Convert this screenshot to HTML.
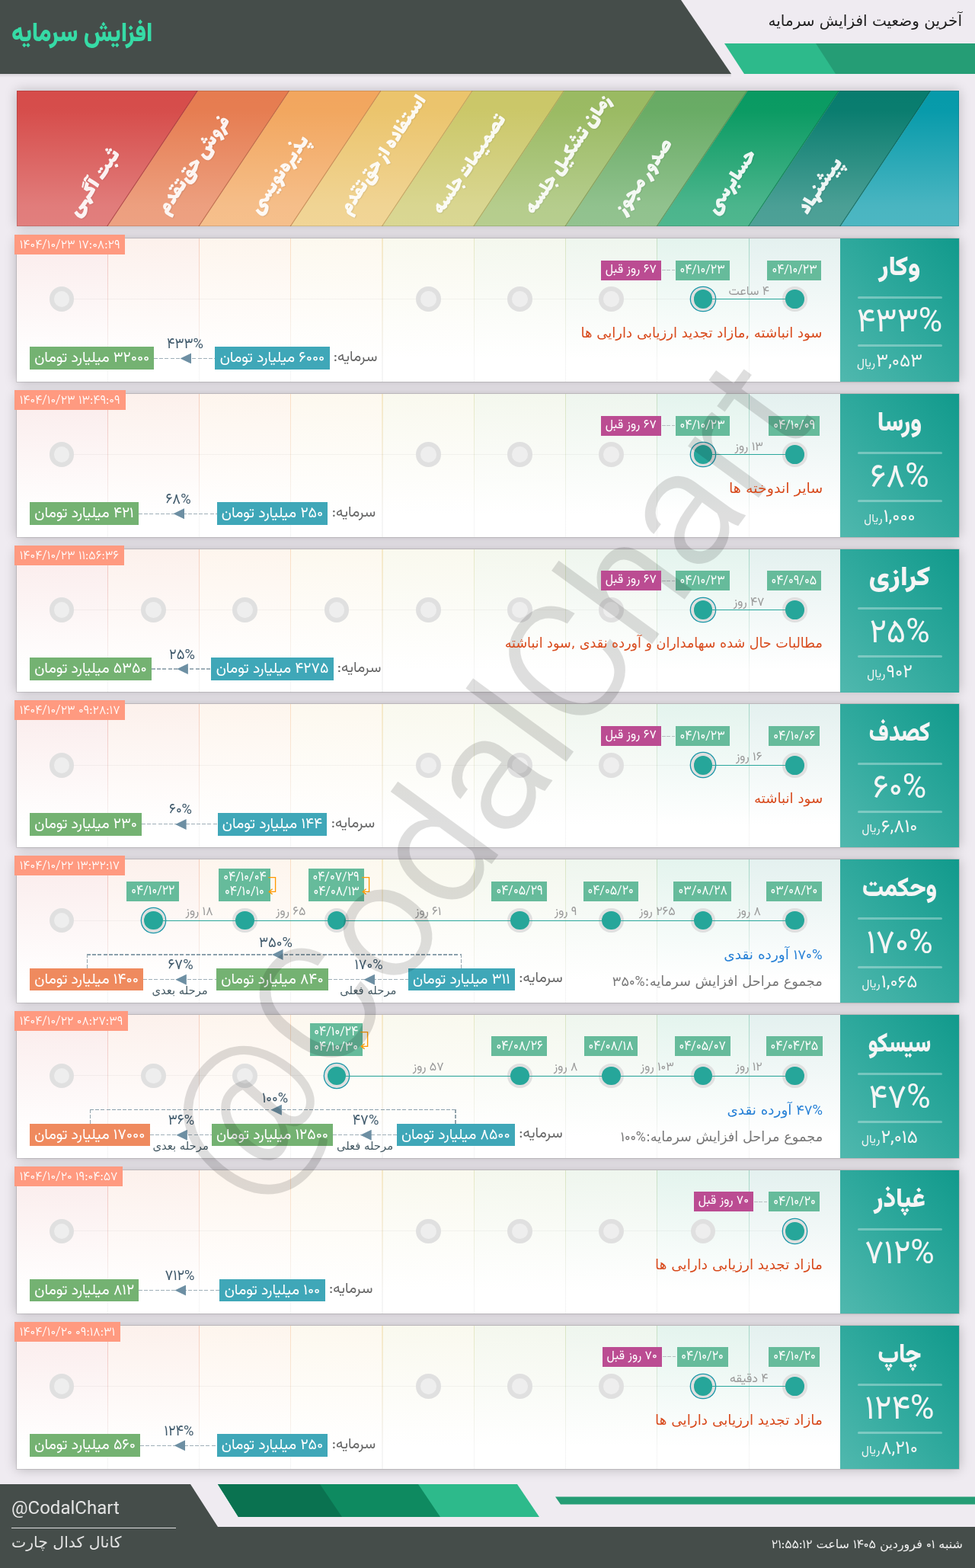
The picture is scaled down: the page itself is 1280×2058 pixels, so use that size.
<!DOCTYPE html>
<html lang="fa">
<head>
<meta charset="utf-8">
<title>افزایش سرمایه</title>
<style>
*{box-sizing:border-box;margin:0;padding:0}
html,body{width:1280px;height:2058px;background:#efebf1}
body{overflow:hidden}
body{font-family:"Vazirmatn", "DejaVu Sans", "Liberation Sans", sans-serif;font-size:16px;color:#333;position:relative;direction:ltr}
.d{font-family:"Vazirmatn", "DejaVu Sans", "Liberation Sans", sans-serif}
.abs{position:absolute}
.t{position:absolute;white-space:nowrap;direction:rtl;line-height:1}
#title{left:15px;top:21px;font:900 35.6px/50px "Vazirmatn", "DejaVu Sans", "Liberation Sans", sans-serif;color:#36dba6;transform:scaleX(.87);transform-origin:0 50%}
#sub{right:17px;top:13px;font:400 20px/28px "DejaVu Sans", "Liberation Sans", sans-serif;color:#1c1c1c}
#band{position:absolute;left:22px;top:119px;width:1237px;height:178px;overflow:hidden;box-shadow:0 0 15px rgba(0,0,0,.22)}
#band svg{position:absolute;left:0;top:0}
.sl{position:absolute;white-space:nowrap;direction:rtl;font:400 29px/40px "Lalezar", "DejaVu Sans", "Liberation Sans", sans-serif;color:#fff;opacity:.91;transform-origin:0 100%;transform:rotate(-56deg);text-shadow:0 1px 2px rgba(0,0,0,.12)}
.row{position:absolute;left:22px;width:1237px;height:187.8px;background:#fff;box-shadow:0 0 0 .7px rgba(0,0,0,.16),0 0 15px rgba(0,0,0,.25)}
.cols{position:absolute;left:0;top:0;width:1081px;height:188px;overflow:hidden}
.col{position:absolute;top:0;width:120px;height:188px}
.vl{position:absolute;top:0;width:1.2px;height:188px}
.hl{position:absolute;left:59px;top:79.3px;width:962px;height:1px;background:rgba(0,0,0,.04)}
.np{position:absolute;left:1081px;top:0;width:156px;height:188px;background:linear-gradient(to bottom left,#119a8c 0%,#2fa99d 50%,#50b8ae 100%);color:#f5f5f5}
.np .nm{left:0;width:156px;text-align:center;top:14.8px;font:900 35px/50px "Vazirmatn", "DejaVu Sans", "Liberation Sans", sans-serif;direction:rtl;position:absolute}
.np .pc{left:0;width:156px;text-align:center;top:79.3px;font:400 44px/66px "Vazirmatn", "DejaVu Sans", "Liberation Sans", sans-serif;direction:rtl;position:absolute;transform:scaleX(.975)}
.np .pr{left:0;width:130px;text-align:center;top:144px;font:400 24px/36px "Vazirmatn", "DejaVu Sans", "Liberation Sans", sans-serif;direction:rtl;position:absolute;white-space:nowrap}
.np .pr small{font-size:15.5px;margin-right:1.2px}
.np i{position:absolute;left:23px;width:111px;height:3px;border-radius:2px;background:rgba(255,255,255,.32)}
.ts{z-index:6;position:absolute;left:-3px;top:-5px;height:26px;padding-top:2px;background:#ff9a80;color:#fff;font:300 16.2px/24px "Vazirmatn", "DejaVu Sans", "Liberation Sans", sans-serif;text-align:center;direction:ltr;white-space:nowrap}
.nd{position:absolute;width:32.6px;height:32.6px;border-radius:50%;top:63.1px;border:6px solid #e0e0e0;background:#eeeeee}
.nd.a{border-width:0;background:#e0e0e0}
.nd.c{border-width:0;background:#e0e0e0;box-shadow:0 0 0 1.3px #1a97a8;width:31.6px;height:31.6px;margin:.5px 0 0 .5px}
.dot{position:absolute;width:24.6px;height:24.6px;border-radius:50%;background:#26a69a}
.ln{position:absolute;height:1.24px;background:#2aa79c}
.db{position:absolute;height:26px;background:#66bb9b;color:#fff;font:400 16px/26px "Vazirmatn", "DejaVu Sans", "Liberation Sans", sans-serif;text-align:center;direction:rtl;white-space:nowrap;padding-top:.5px}
.db2{height:43px;line-height:18.6px;padding-top:3px}
.db span{display:inline-block;font-size:17.3px;transform:scaleX(.925);margin:0 -4px}
.mg{z-index:6;position:absolute;height:26px;top:29px;background:#bb4c92;color:#fff;font:400 16px/26px "Vazirmatn", "DejaVu Sans", "Liberation Sans", sans-serif;text-align:center;direction:rtl;white-space:nowrap}
.dash{position:absolute;height:1.3px;margin-top:-.15px;background:repeating-linear-gradient(90deg,#9fafb8 0,#9fafb8 5px,transparent 5px,transparent 7.2px)}
.dl{height:1px;background:repeating-linear-gradient(90deg,#b9bfc2 0,#b9bfc2 4.6px,transparent 4.6px,transparent 6.4px)}
.bk{background:repeating-linear-gradient(90deg,#8ba0ac 0,#8ba0ac 5px,transparent 5px,transparent 7.2px)}
.vdash{position:absolute;width:1.3px;background:repeating-linear-gradient(180deg,#93a4ad 0,#93a4ad 5px,transparent 5px,transparent 7.2px)}
.iv{position:absolute;width:100px;text-align:center;top:57.6px;font:400 16px/22px "Vazirmatn", "DejaVu Sans", "Liberation Sans", sans-serif;color:#9a9a9a;direction:rtl;white-space:nowrap}
.ds{z-index:6;transform-origin:100% 50%;position:absolute;right:179px;font:400 18px/24px "DejaVu Sans", "Liberation Sans", sans-serif;direction:rtl;white-space:nowrap}
.cb{position:absolute;height:29.6px;top:142.5px;color:#fff;font:400 19.4px/30.6px "Vazirmatn", "DejaVu Sans", "Liberation Sans", sans-serif;text-align:center;direction:rtl;white-space:nowrap}
.cl{position:absolute;top:142.2px;margin-left:-.7px;font:400 19.2px/28px "Vazirmatn", "DejaVu Sans", "Liberation Sans", sans-serif;color:#666;direction:rtl;white-space:nowrap}
.pl{position:absolute;width:100px;text-align:center;font:400 19.2px/24px "Vazirmatn", "DejaVu Sans", "Liberation Sans", sans-serif;color:#3f596b;transform:scaleX(.955);direction:rtl;white-space:nowrap}
.sb{position:absolute;width:120px;text-align:center;font:400 14.8px/18px "DejaVu Sans", "Liberation Sans", sans-serif;color:#455a64;direction:rtl;white-space:nowrap}
.ar{position:absolute;width:14.5px;height:14px;background:#6d8fa3;clip-path:polygon(0 50%,100% 0,100% 100%)}
#wm{position:absolute;left:0;top:0;width:1280px;height:2058px;pointer-events:none;z-index:5}
#fl1{left:15px;top:1965px;font:400 24px/32px "Vazirmatn", "Liberation Sans", "DejaVu Sans", sans-serif;color:#e4e4e4;direction:ltr}
#fl2{left:15px;top:2010px;font:400 20px/28px "DejaVu Sans", "Liberation Sans", sans-serif;color:#e4e4e4;transform:scaleX(1.02);transform-origin:0 50%}
#fr{right:16px;top:2016px;font:400 16px/22px "DejaVu Sans", "Liberation Sans", sans-serif;color:#f0f0f0}
</style>
</head>
<body>
<svg class="abs" style="left:0;top:0" width="1280" height="2058" viewBox="0 0 1280 2058">
<defs><linearGradient id="hs" x1="0" y1="0" x2="0" y2="1"><stop offset="0" stop-color="#000" stop-opacity=".10"/><stop offset="1" stop-color="#000" stop-opacity="0"/></linearGradient></defs>
<rect x="0" y="97" width="960" height="5" fill="url(#hs)"/>
<polygon points="0,0 894,0 960,97 0,97" fill="#454d4a"/>
<polygon points="951,57 1280,57 1280,97 977,97" fill="#2dba8b"/>
<polygon points="1071,57 1280,57 1280,97 1097,97" fill="#259d75"/>
<polygon points="0,1948 250,1948 286,2004 1280,2004 1280,2058 0,2058" fill="#454d4a"/>
<polygon points="286,1948 679,1948 708,1991 313,1991" fill="#2dba8b"/>
<polygon points="286,1948 549,1948 578,1991 313,1991" fill="#0e8a60"/>
<polygon points="286,1948 420,1948 449,1991 313,1991" fill="#0a7250"/>
<polygon points="729,1964.5 1280,1964.5 1280,1974.5 736,1974.5" fill="#259d75"/>
<rect x="15" y="2005" width="216" height="1" fill="#e0e0e0"/>
</svg>
<div class="t" id="title">افزایش سرمایه</div>
<div class="t" id="sub">آخرین وضعیت افزایش سرمایه</div>
<div id="band">
<svg width="1237" height="178" viewBox="0 0 1237 178">
<defs><linearGradient id="bw" x1="0" y1="0" x2="0" y2="1"><stop offset="0" stop-color="#fff" stop-opacity="0"/><stop offset=".15" stop-color="#fff" stop-opacity=".01"/><stop offset=".85" stop-color="#fff" stop-opacity=".27"/><stop offset="1" stop-color="#fff" stop-opacity=".285"/></linearGradient></defs>
<polygon points="0,0 238.02,0 119.27,178 0,178" fill="#d64c4a"/>
<polygon points="238.02,0 358.29,0 239.54,178 119.27,178" fill="#e67c50"/>
<polygon points="358.29,0 478.56,0 359.81,178 239.54,178" fill="#f2a65e"/>
<polygon points="478.56,0 598.83,0 480.08,178 359.81,178" fill="#ebc46c"/>
<polygon points="598.83,0 719.1,0 600.35,178 480.08,178" fill="#cbc768"/>
<polygon points="719.1,0 839.37,0 720.62,178 600.35,178" fill="#9aba62"/>
<polygon points="839.37,0 959.64,0 840.89,178 720.62,178" fill="#68ab64"/>
<polygon points="959.64,0 1079.91,0 961.16,178 840.89,178" fill="#099a62"/>
<polygon points="1079.91,0 1200.18,0 1081.43,178 961.16,178" fill="#087c6e"/>
<polygon points="1200.18,0 1237,0 1237,178 1081.43,178" fill="#069aaa"/>
<rect x="0" y="0" width="1237" height="178" fill="url(#bw)"/>
<line x1="237.42" y1="0" x2="118.67" y2="178" stroke="rgb(166,59,57)" stroke-opacity=".75" stroke-width="1.2"/>
<line x1="357.69" y1="0" x2="238.94" y2="178" stroke="rgb(179,96,62)" stroke-opacity=".75" stroke-width="1.2"/>
<line x1="477.96" y1="0" x2="359.21" y2="178" stroke="rgb(188,129,73)" stroke-opacity=".75" stroke-width="1.2"/>
<line x1="598.23" y1="0" x2="479.48" y2="178" stroke="rgb(183,152,84)" stroke-opacity=".75" stroke-width="1.2"/>
<line x1="718.5" y1="0" x2="599.75" y2="178" stroke="rgb(158,155,81)" stroke-opacity=".75" stroke-width="1.2"/>
<line x1="838.77" y1="0" x2="720.02" y2="178" stroke="rgb(120,145,76)" stroke-opacity=".75" stroke-width="1.2"/>
<line x1="959.04" y1="0" x2="840.29" y2="178" stroke="rgb(81,133,78)" stroke-opacity=".75" stroke-width="1.2"/>
<line x1="1079.31" y1="0" x2="960.56" y2="178" stroke="rgb(7,120,76)" stroke-opacity=".75" stroke-width="1.2"/>
<line x1="1199.58" y1="0" x2="1080.83" y2="178" stroke="rgb(6,96,85)" stroke-opacity=".75" stroke-width="1.2"/>
<rect x=".5" y=".5" width="1236" height="177" fill="none" stroke="#000" stroke-opacity=".12"/>
</svg>
<div class="sl" style="left:92px;top:135px;transform:rotate(-56deg) scaleX(1.05)">ثبت آگهی</div>
<div class="sl" style="left:209.27px;top:132px">فروش حق‌تقدم</div>
<div class="sl" style="left:329.54px;top:132px">پذیره‌نویسی</div>
<div class="sl" style="left:447.81px;top:132px;transform:rotate(-56deg) scaleX(0.96)">استفاده از حق‌تقدم</div>
<div class="sl" style="left:570.08px;top:132px;transform:rotate(-56deg) scaleX(0.94)">تصمیمات جلسه</div>
<div class="sl" style="left:691.35px;top:132px;transform:rotate(-56deg) scaleX(0.98)">زمان تشکیل جلسه</div>
<div class="sl" style="left:809.62px;top:132px;transform:rotate(-56deg) scaleX(1.04)">صدور مجوز</div>
<div class="sl" style="left:929.89px;top:132px">حسابرسی</div>
<div class="sl" style="left:1050.16px;top:132px;transform:rotate(-56deg) scaleX(1.02)">پیشنهاد</div>
</div>
<div class="row" style="top:312.9px">
<div class="cols">
<div class="col" style="left:-1px;width:120.27px;background:linear-gradient(180deg,rgba(214,76,74,.11),rgba(214,76,74,0) 85%)"></div>
<div class="vl" style="left:118.67px;background:linear-gradient(180deg,rgba(214,76,74,.3),rgba(120,120,120,.07) 88%)"></div>
<div class="col" style="left:119.27px;width:120.27px;background:linear-gradient(180deg,rgba(230,124,80,.11),rgba(230,124,80,0) 85%)"></div>
<div class="vl" style="left:238.94px;background:linear-gradient(180deg,rgba(230,124,80,.3),rgba(120,120,120,.07) 88%)"></div>
<div class="col" style="left:239.54px;width:120.27px;background:linear-gradient(180deg,rgba(242,166,94,.11),rgba(242,166,94,0) 85%)"></div>
<div class="vl" style="left:359.21px;background:linear-gradient(180deg,rgba(242,166,94,.3),rgba(120,120,120,.07) 88%)"></div>
<div class="col" style="left:359.81px;width:120.27px;background:linear-gradient(180deg,rgba(235,196,108,.11),rgba(235,196,108,0) 85%)"></div>
<div class="vl" style="left:479.48px;background:linear-gradient(180deg,rgba(235,196,108,.3),rgba(120,120,120,.07) 88%)"></div>
<div class="col" style="left:480.08px;width:120.27px;background:linear-gradient(180deg,rgba(203,199,104,.11),rgba(203,199,104,0) 85%)"></div>
<div class="vl" style="left:599.75px;background:linear-gradient(180deg,rgba(203,199,104,.3),rgba(120,120,120,.07) 88%)"></div>
<div class="col" style="left:600.35px;width:120.27px;background:linear-gradient(180deg,rgba(154,186,98,.11),rgba(154,186,98,0) 85%)"></div>
<div class="vl" style="left:720.02px;background:linear-gradient(180deg,rgba(154,186,98,.3),rgba(120,120,120,.07) 88%)"></div>
<div class="col" style="left:720.62px;width:120.27px;background:linear-gradient(180deg,rgba(104,171,100,.11),rgba(104,171,100,0) 85%)"></div>
<div class="vl" style="left:840.29px;background:linear-gradient(180deg,rgba(104,171,100,.3),rgba(120,120,120,.07) 88%)"></div>
<div class="col" style="left:840.89px;width:120.27px;background:linear-gradient(180deg,rgba(9,154,98,.11),rgba(9,154,98,0) 85%)"></div>
<div class="vl" style="left:960.56px;background:linear-gradient(180deg,rgba(9,154,98,.3),rgba(120,120,120,.07) 88%)"></div>
<div class="col" style="left:961.16px;width:120.27px;background:linear-gradient(180deg,rgba(8,124,110,.11),rgba(8,124,110,0) 85%)"></div>
<div class="vl" style="left:1080.83px;background:linear-gradient(180deg,rgba(8,124,110,.3),rgba(120,120,120,.07) 88%)"></div>
<div class="hl"></div>
</div>
<div class="np"><div class="nm" style="transform:scaleX(0.99)">وکار</div><i style="top:76.2px"></i><div class="pc">۴۳۳%</div><i style="top:139.3px"></i><div class="pr">۳,۰۵۳<small>ریال</small></div></div>
<div class="nd" style="left:42.83px;top:63.5px"></div>
<div class="nd" style="left:523.92px;top:63.5px"></div>
<div class="nd" style="left:644.19px;top:63.5px"></div>
<div class="nd" style="left:764.46px;top:63.5px"></div>
<div class="nd a" style="left:1005px;top:63.5px"></div>
<div class="nd c" style="left:884.73px;top:63.5px"></div>
<div class="ln" style="left:901.02px;width:120.27px;top:78.98px"></div>
<div class="dot" style="left:1009px;top:67.5px"></div>
<div class="db" style="left:985.22px;width:70.76px;top:29.0px"><span>۰۴/۱۰/۲۳</span></div>
<div class="dot" style="left:888.73px;top:67.5px"></div>
<div class="db" style="left:864.95px;width:70.76px;top:29.0px"><span>۰۴/۱۰/۲۳</span></div>
<div class="dash dl" style="left:847.16px;width:16.78px;top:41.6px"></div>
<div class="mg" style="left:766.85px;width:78.82px;top:29.0px">۶۷ روز قبل</div>
<div class="iv" style="left:911.16px;top:60px">۴ ساعت</div>
<div class="ds" style="top:111.8px;color:#d84a1c;transform:scaleX(1.005)">سود انباشته ,مازاد تجدید ارزیابی دارایی ها</div>
<div class="cl" style="left:416.56px;width:57.44px;text-align:center">سرمایه:</div>
<div class="cb" style="left:260.44px;width:150.12px;background:#3fa7b8">۶۰۰۰ میلیارد تومان</div>
<div class="cb" style="left:17px;width:163.47px;background:#74b272">۳۲۰۰۰ میلیارد تومان</div>
<div class="dash" style="left:180.47px;width:79.97px;top:156.9px"></div>
<div class="ar" style="left:214.65px;top:150.5px"></div>
<div class="pl" style="left:171.05px;top:127px">۴۳۳%</div>
<div class="ts" style="width:145.34px">۱۴۰۴/۱۰/۲۳ ۱۷:۰۸:۲۹</div>
</div>
<div class="row" style="top:516.75px">
<div class="cols">
<div class="col" style="left:-1px;width:120.27px;background:linear-gradient(180deg,rgba(214,76,74,.11),rgba(214,76,74,0) 85%)"></div>
<div class="vl" style="left:118.67px;background:linear-gradient(180deg,rgba(214,76,74,.3),rgba(120,120,120,.07) 88%)"></div>
<div class="col" style="left:119.27px;width:120.27px;background:linear-gradient(180deg,rgba(230,124,80,.11),rgba(230,124,80,0) 85%)"></div>
<div class="vl" style="left:238.94px;background:linear-gradient(180deg,rgba(230,124,80,.3),rgba(120,120,120,.07) 88%)"></div>
<div class="col" style="left:239.54px;width:120.27px;background:linear-gradient(180deg,rgba(242,166,94,.11),rgba(242,166,94,0) 85%)"></div>
<div class="vl" style="left:359.21px;background:linear-gradient(180deg,rgba(242,166,94,.3),rgba(120,120,120,.07) 88%)"></div>
<div class="col" style="left:359.81px;width:120.27px;background:linear-gradient(180deg,rgba(235,196,108,.11),rgba(235,196,108,0) 85%)"></div>
<div class="vl" style="left:479.48px;background:linear-gradient(180deg,rgba(235,196,108,.3),rgba(120,120,120,.07) 88%)"></div>
<div class="col" style="left:480.08px;width:120.27px;background:linear-gradient(180deg,rgba(203,199,104,.11),rgba(203,199,104,0) 85%)"></div>
<div class="vl" style="left:599.75px;background:linear-gradient(180deg,rgba(203,199,104,.3),rgba(120,120,120,.07) 88%)"></div>
<div class="col" style="left:600.35px;width:120.27px;background:linear-gradient(180deg,rgba(154,186,98,.11),rgba(154,186,98,0) 85%)"></div>
<div class="vl" style="left:720.02px;background:linear-gradient(180deg,rgba(154,186,98,.3),rgba(120,120,120,.07) 88%)"></div>
<div class="col" style="left:720.62px;width:120.27px;background:linear-gradient(180deg,rgba(104,171,100,.11),rgba(104,171,100,0) 85%)"></div>
<div class="vl" style="left:840.29px;background:linear-gradient(180deg,rgba(104,171,100,.3),rgba(120,120,120,.07) 88%)"></div>
<div class="col" style="left:840.89px;width:120.27px;background:linear-gradient(180deg,rgba(9,154,98,.11),rgba(9,154,98,0) 85%)"></div>
<div class="vl" style="left:960.56px;background:linear-gradient(180deg,rgba(9,154,98,.3),rgba(120,120,120,.07) 88%)"></div>
<div class="col" style="left:961.16px;width:120.27px;background:linear-gradient(180deg,rgba(8,124,110,.11),rgba(8,124,110,0) 85%)"></div>
<div class="vl" style="left:1080.83px;background:linear-gradient(180deg,rgba(8,124,110,.3),rgba(120,120,120,.07) 88%)"></div>
<div class="hl"></div>
</div>
<div class="np"><div class="nm" style="transform:scaleX(0.9)">ورسا</div><i style="top:76.2px"></i><div class="pc">۶۸%</div><i style="top:139.3px"></i><div class="pr">۱,۰۰۰<small>ریال</small></div></div>
<div class="nd" style="left:42.83px;top:63.5px"></div>
<div class="nd" style="left:523.92px;top:63.5px"></div>
<div class="nd" style="left:644.19px;top:63.5px"></div>
<div class="nd" style="left:764.46px;top:63.5px"></div>
<div class="nd a" style="left:1005px;top:63.5px"></div>
<div class="nd c" style="left:884.73px;top:63.5px"></div>
<div class="ln" style="left:901.02px;width:120.27px;top:79.13px"></div>
<div class="dot" style="left:1009px;top:67.5px"></div>
<div class="db" style="left:987.44px;width:66.31px;top:28.87px"><span>۰۴/۱۰/۰۹</span></div>
<div class="dot" style="left:888.73px;top:67.5px"></div>
<div class="db" style="left:864.95px;width:70.76px;top:28.87px"><span>۰۴/۱۰/۲۳</span></div>
<div class="dash dl" style="left:847.16px;width:16.78px;top:41.47px"></div>
<div class="mg" style="left:766.85px;width:78.82px;top:28.87px">۶۷ روز قبل</div>
<div class="iv" style="left:911.16px;top:60px">۱۳ روز</div>
<div class="ds" style="top:111.8px;color:#d84a1c;transform:scaleX(1.06)">سایر اندوخته ها</div>
<div class="cl" style="left:414.48px;width:57.44px;text-align:center">سرمایه:</div>
<div class="cb" style="left:262.52px;width:145.97px;background:#3fa7b8">۲۵۰ میلیارد تومان</div>
<div class="cb" style="left:17px;width:143.05px;background:#74b272">۴۲۱ میلیارد تومان</div>
<div class="dash" style="left:160.05px;width:102.47px;top:156.9px"></div>
<div class="ar" style="left:205.48px;top:150.5px"></div>
<div class="pl" style="left:161.88px;top:127px">۶۸%</div>
<div class="ts" style="width:145.52px">۱۴۰۴/۱۰/۲۳ ۱۳:۴۹:۰۹</div>
</div>
<div class="row" style="top:720.6px">
<div class="cols">
<div class="col" style="left:-1px;width:120.27px;background:linear-gradient(180deg,rgba(214,76,74,.11),rgba(214,76,74,0) 85%)"></div>
<div class="vl" style="left:118.67px;background:linear-gradient(180deg,rgba(214,76,74,.3),rgba(120,120,120,.07) 88%)"></div>
<div class="col" style="left:119.27px;width:120.27px;background:linear-gradient(180deg,rgba(230,124,80,.11),rgba(230,124,80,0) 85%)"></div>
<div class="vl" style="left:238.94px;background:linear-gradient(180deg,rgba(230,124,80,.3),rgba(120,120,120,.07) 88%)"></div>
<div class="col" style="left:239.54px;width:120.27px;background:linear-gradient(180deg,rgba(242,166,94,.11),rgba(242,166,94,0) 85%)"></div>
<div class="vl" style="left:359.21px;background:linear-gradient(180deg,rgba(242,166,94,.3),rgba(120,120,120,.07) 88%)"></div>
<div class="col" style="left:359.81px;width:120.27px;background:linear-gradient(180deg,rgba(235,196,108,.11),rgba(235,196,108,0) 85%)"></div>
<div class="vl" style="left:479.48px;background:linear-gradient(180deg,rgba(235,196,108,.3),rgba(120,120,120,.07) 88%)"></div>
<div class="col" style="left:480.08px;width:120.27px;background:linear-gradient(180deg,rgba(203,199,104,.11),rgba(203,199,104,0) 85%)"></div>
<div class="vl" style="left:599.75px;background:linear-gradient(180deg,rgba(203,199,104,.3),rgba(120,120,120,.07) 88%)"></div>
<div class="col" style="left:600.35px;width:120.27px;background:linear-gradient(180deg,rgba(154,186,98,.11),rgba(154,186,98,0) 85%)"></div>
<div class="vl" style="left:720.02px;background:linear-gradient(180deg,rgba(154,186,98,.3),rgba(120,120,120,.07) 88%)"></div>
<div class="col" style="left:720.62px;width:120.27px;background:linear-gradient(180deg,rgba(104,171,100,.11),rgba(104,171,100,0) 85%)"></div>
<div class="vl" style="left:840.29px;background:linear-gradient(180deg,rgba(104,171,100,.3),rgba(120,120,120,.07) 88%)"></div>
<div class="col" style="left:840.89px;width:120.27px;background:linear-gradient(180deg,rgba(9,154,98,.11),rgba(9,154,98,0) 85%)"></div>
<div class="vl" style="left:960.56px;background:linear-gradient(180deg,rgba(9,154,98,.3),rgba(120,120,120,.07) 88%)"></div>
<div class="col" style="left:961.16px;width:120.27px;background:linear-gradient(180deg,rgba(8,124,110,.11),rgba(8,124,110,0) 85%)"></div>
<div class="vl" style="left:1080.83px;background:linear-gradient(180deg,rgba(8,124,110,.3),rgba(120,120,120,.07) 88%)"></div>
<div class="hl"></div>
</div>
<div class="np"><div class="nm" style="transform:scaleX(1.07)">کرازی</div><i style="top:76.2px"></i><div class="pc">۲۵%</div><i style="top:139.3px"></i><div class="pr">۹۰۲<small>ریال</small></div></div>
<div class="nd" style="left:42.83px;top:63.5px"></div>
<div class="nd" style="left:163.1px;top:63.5px"></div>
<div class="nd" style="left:283.38px;top:63.5px"></div>
<div class="nd" style="left:403.64px;top:63.5px"></div>
<div class="nd" style="left:523.92px;top:63.5px"></div>
<div class="nd" style="left:644.19px;top:63.5px"></div>
<div class="nd" style="left:764.46px;top:63.5px"></div>
<div class="nd a" style="left:1005px;top:63.5px"></div>
<div class="nd c" style="left:884.73px;top:63.5px"></div>
<div class="ln" style="left:901.02px;width:120.27px;top:79.28px"></div>
<div class="dot" style="left:1009px;top:67.5px"></div>
<div class="db" style="left:985.03px;width:71.13px;top:28.74px"><span>۰۴/۰۹/۰۵</span></div>
<div class="dot" style="left:888.73px;top:67.5px"></div>
<div class="db" style="left:864.95px;width:70.76px;top:28.74px"><span>۰۴/۱۰/۲۳</span></div>
<div class="dash dl" style="left:847.16px;width:16.78px;top:41.34px"></div>
<div class="mg" style="left:766.85px;width:78.82px;top:28.74px">۶۷ روز قبل</div>
<div class="iv" style="left:911.16px;top:60px">۴۷ روز</div>
<div class="ds" style="top:111.8px;color:#d84a1c;transform:scaleX(0.975)">مطالبات حال شده سهامداران و آورده نقدی ,سود انباشته</div>
<div class="cl" style="left:421.56px;width:57.44px;text-align:center">سرمایه:</div>
<div class="cb" style="left:255.44px;width:160.12px;background:#3fa7b8">۴۲۷۵ میلیارد تومان</div>
<div class="cb" style="left:17px;width:159.88px;background:#74b272">۵۳۵۰ میلیارد تومان</div>
<div class="dash" style="left:176.88px;width:78.56px;top:156.9px"></div>
<div class="ar" style="left:210.36px;top:150.5px"></div>
<div class="pl" style="left:166.76px;top:127px">۲۵%</div>
<div class="ts" style="width:143.81px">۱۴۰۴/۱۰/۲۳ ۱۱:۵۶:۳۶</div>
</div>
<div class="row" style="top:924.45px">
<div class="cols">
<div class="col" style="left:-1px;width:120.27px;background:linear-gradient(180deg,rgba(214,76,74,.11),rgba(214,76,74,0) 85%)"></div>
<div class="vl" style="left:118.67px;background:linear-gradient(180deg,rgba(214,76,74,.3),rgba(120,120,120,.07) 88%)"></div>
<div class="col" style="left:119.27px;width:120.27px;background:linear-gradient(180deg,rgba(230,124,80,.11),rgba(230,124,80,0) 85%)"></div>
<div class="vl" style="left:238.94px;background:linear-gradient(180deg,rgba(230,124,80,.3),rgba(120,120,120,.07) 88%)"></div>
<div class="col" style="left:239.54px;width:120.27px;background:linear-gradient(180deg,rgba(242,166,94,.11),rgba(242,166,94,0) 85%)"></div>
<div class="vl" style="left:359.21px;background:linear-gradient(180deg,rgba(242,166,94,.3),rgba(120,120,120,.07) 88%)"></div>
<div class="col" style="left:359.81px;width:120.27px;background:linear-gradient(180deg,rgba(235,196,108,.11),rgba(235,196,108,0) 85%)"></div>
<div class="vl" style="left:479.48px;background:linear-gradient(180deg,rgba(235,196,108,.3),rgba(120,120,120,.07) 88%)"></div>
<div class="col" style="left:480.08px;width:120.27px;background:linear-gradient(180deg,rgba(203,199,104,.11),rgba(203,199,104,0) 85%)"></div>
<div class="vl" style="left:599.75px;background:linear-gradient(180deg,rgba(203,199,104,.3),rgba(120,120,120,.07) 88%)"></div>
<div class="col" style="left:600.35px;width:120.27px;background:linear-gradient(180deg,rgba(154,186,98,.11),rgba(154,186,98,0) 85%)"></div>
<div class="vl" style="left:720.02px;background:linear-gradient(180deg,rgba(154,186,98,.3),rgba(120,120,120,.07) 88%)"></div>
<div class="col" style="left:720.62px;width:120.27px;background:linear-gradient(180deg,rgba(104,171,100,.11),rgba(104,171,100,0) 85%)"></div>
<div class="vl" style="left:840.29px;background:linear-gradient(180deg,rgba(104,171,100,.3),rgba(120,120,120,.07) 88%)"></div>
<div class="col" style="left:840.89px;width:120.27px;background:linear-gradient(180deg,rgba(9,154,98,.11),rgba(9,154,98,0) 85%)"></div>
<div class="vl" style="left:960.56px;background:linear-gradient(180deg,rgba(9,154,98,.3),rgba(120,120,120,.07) 88%)"></div>
<div class="col" style="left:961.16px;width:120.27px;background:linear-gradient(180deg,rgba(8,124,110,.11),rgba(8,124,110,0) 85%)"></div>
<div class="vl" style="left:1080.83px;background:linear-gradient(180deg,rgba(8,124,110,.3),rgba(120,120,120,.07) 88%)"></div>
<div class="hl"></div>
</div>
<div class="np"><div class="nm" style="transform:scaleX(0.83)">کصدف</div><i style="top:76.2px"></i><div class="pc">۶۰%</div><i style="top:139.3px"></i><div class="pr">۶,۸۱۰<small>ریال</small></div></div>
<div class="nd" style="left:42.83px;top:63.5px"></div>
<div class="nd" style="left:523.92px;top:63.5px"></div>
<div class="nd" style="left:644.19px;top:63.5px"></div>
<div class="nd" style="left:764.46px;top:63.5px"></div>
<div class="nd a" style="left:1005px;top:63.5px"></div>
<div class="nd c" style="left:884.73px;top:63.5px"></div>
<div class="ln" style="left:901.02px;width:120.27px;top:79.43px"></div>
<div class="dot" style="left:1009px;top:67.5px"></div>
<div class="db" style="left:987.4px;width:66.38px;top:28.61px"><span>۰۴/۱۰/۰۶</span></div>
<div class="dot" style="left:888.73px;top:67.5px"></div>
<div class="db" style="left:864.95px;width:70.76px;top:28.61px"><span>۰۴/۱۰/۲۳</span></div>
<div class="dash dl" style="left:847.16px;width:16.78px;top:41.21px"></div>
<div class="mg" style="left:766.85px;width:78.82px;top:28.61px">۶۷ روز قبل</div>
<div class="iv" style="left:911.16px;top:60px">۱۶ روز</div>
<div class="ds" style="top:111.8px;color:#d84a1c;transform:scaleX(1.012)">سود انباشته</div>
<div class="cl" style="left:413.48px;width:57.44px;text-align:center">سرمایه:</div>
<div class="cb" style="left:263.52px;width:143.97px;background:#3fa7b8">۱۴۴ میلیارد تومان</div>
<div class="cb" style="left:17px;width:147.28px;background:#74b272">۲۳۰ میلیارد تومان</div>
<div class="dash" style="left:164.28px;width:99.23px;top:156.9px"></div>
<div class="ar" style="left:208.1px;top:150.5px"></div>
<div class="pl" style="left:164.5px;top:127px">۶۰%</div>
<div class="ts" style="width:145.34px">۱۴۰۴/۱۰/۲۳ ۰۹:۲۸:۱۷</div>
</div>
<div class="row" style="top:1128.3px">
<div class="cols">
<div class="col" style="left:-1px;width:120.27px;background:linear-gradient(180deg,rgba(214,76,74,.11),rgba(214,76,74,0) 85%)"></div>
<div class="vl" style="left:118.67px;background:linear-gradient(180deg,rgba(214,76,74,.3),rgba(120,120,120,.07) 88%)"></div>
<div class="col" style="left:119.27px;width:120.27px;background:linear-gradient(180deg,rgba(230,124,80,.11),rgba(230,124,80,0) 85%)"></div>
<div class="vl" style="left:238.94px;background:linear-gradient(180deg,rgba(230,124,80,.3),rgba(120,120,120,.07) 88%)"></div>
<div class="col" style="left:239.54px;width:120.27px;background:linear-gradient(180deg,rgba(242,166,94,.11),rgba(242,166,94,0) 85%)"></div>
<div class="vl" style="left:359.21px;background:linear-gradient(180deg,rgba(242,166,94,.3),rgba(120,120,120,.07) 88%)"></div>
<div class="col" style="left:359.81px;width:120.27px;background:linear-gradient(180deg,rgba(235,196,108,.11),rgba(235,196,108,0) 85%)"></div>
<div class="vl" style="left:479.48px;background:linear-gradient(180deg,rgba(235,196,108,.3),rgba(120,120,120,.07) 88%)"></div>
<div class="col" style="left:480.08px;width:120.27px;background:linear-gradient(180deg,rgba(203,199,104,.11),rgba(203,199,104,0) 85%)"></div>
<div class="vl" style="left:599.75px;background:linear-gradient(180deg,rgba(203,199,104,.3),rgba(120,120,120,.07) 88%)"></div>
<div class="col" style="left:600.35px;width:120.27px;background:linear-gradient(180deg,rgba(154,186,98,.11),rgba(154,186,98,0) 85%)"></div>
<div class="vl" style="left:720.02px;background:linear-gradient(180deg,rgba(154,186,98,.3),rgba(120,120,120,.07) 88%)"></div>
<div class="col" style="left:720.62px;width:120.27px;background:linear-gradient(180deg,rgba(104,171,100,.11),rgba(104,171,100,0) 85%)"></div>
<div class="vl" style="left:840.29px;background:linear-gradient(180deg,rgba(104,171,100,.3),rgba(120,120,120,.07) 88%)"></div>
<div class="col" style="left:840.89px;width:120.27px;background:linear-gradient(180deg,rgba(9,154,98,.11),rgba(9,154,98,0) 85%)"></div>
<div class="vl" style="left:960.56px;background:linear-gradient(180deg,rgba(9,154,98,.3),rgba(120,120,120,.07) 88%)"></div>
<div class="col" style="left:961.16px;width:120.27px;background:linear-gradient(180deg,rgba(8,124,110,.11),rgba(8,124,110,0) 85%)"></div>
<div class="vl" style="left:1080.83px;background:linear-gradient(180deg,rgba(8,124,110,.3),rgba(120,120,120,.07) 88%)"></div>
<div class="hl"></div>
</div>
<div class="np"><div class="nm" style="transform:scaleX(0.88)">وحکمت</div><i style="top:76.2px"></i><div class="pc">۱۷۰%</div><i style="top:139.3px"></i><div class="pr">۱,۰۶۵<small>ریال</small></div></div>
<div class="nd" style="left:42.83px;top:63.5px"></div>
<div class="nd a" style="left:1005px;top:63.5px"></div>
<div class="nd a" style="left:884.73px;top:63.5px"></div>
<div class="nd a" style="left:764.46px;top:63.5px"></div>
<div class="nd a" style="left:644.19px;top:63.5px"></div>
<div class="nd a" style="left:403.64px;top:63.5px"></div>
<div class="nd a" style="left:283.38px;top:63.5px"></div>
<div class="nd c" style="left:163.1px;top:63.5px"></div>
<div class="ln" style="left:179.41px;width:841.89px;top:79.58px"></div>
<div class="dot" style="left:1009px;top:67.5px"></div>
<div class="db" style="left:984px;width:73.18px;top:28.48px"><span>۰۳/۰۸/۲۰</span></div>
<div class="dot" style="left:888.73px;top:67.5px"></div>
<div class="db" style="left:862.4px;width:75.85px;top:28.48px"><span>۰۳/۰۸/۲۸</span></div>
<div class="dot" style="left:768.46px;top:67.5px"></div>
<div class="db" style="left:744.16px;width:71.79px;top:28.48px"><span>۰۴/۰۵/۲۰</span></div>
<div class="dot" style="left:648.19px;top:67.5px"></div>
<div class="db" style="left:623.41px;width:72.76px;top:28.48px"><span>۰۴/۰۵/۲۹</span></div>
<div class="dot" style="left:407.64px;top:67.5px"></div>
<div class="db db2" style="left:382.87px;width:72.74px;top:11.48px"><span>۰۴/۰۷/۲۹</span><br><span>۰۴/۰۸/۱۳</span></div>
<svg class="abs" style="left:451.62px;top:16.48px" width="14" height="32" viewBox="0 0 14 32"><path d="M1.2 6.6 H10.6 V25.4 H2.4" fill="none" stroke="#ff9800" stroke-width="1.3"/><path d="M6.6 21.8 L2.2 25.4 L6.6 28.6" fill="none" stroke="#ff9800" stroke-width="1.3"/></svg>
<div class="dot" style="left:287.38px;top:67.5px"></div>
<div class="db db2" style="left:265.1px;width:67.74px;top:11.48px"><span>۰۴/۱۰/۰۴</span><br><span>۰۴/۱۰/۱۰</span></div>
<svg class="abs" style="left:328.85px;top:16.48px" width="14" height="32" viewBox="0 0 14 32"><path d="M1.2 6.6 H10.6 V25.4 H2.4" fill="none" stroke="#ff9800" stroke-width="1.3"/><path d="M6.6 21.8 L2.2 25.4 L6.6 28.6" fill="none" stroke="#ff9800" stroke-width="1.3"/></svg>
<div class="dot" style="left:167.1px;top:67.5px"></div>
<div class="db" style="left:144.4px;width:68.6px;top:28.48px"><span>۰۴/۱۰/۲۲</span></div>
<div class="iv" style="left:911.16px;top:58.4px">۸ روز</div>
<div class="iv" style="left:790.89px;top:58.4px">۲۶۵ روز</div>
<div class="iv" style="left:670.62px;top:58.4px">۹ روز</div>
<div class="iv" style="left:490.22px;top:58.4px">۶۱ روز</div>
<div class="iv" style="left:309.81px;top:58.4px">۶۵ روز</div>
<div class="iv" style="left:189.54px;top:58.4px">۱۸ روز</div>
<div class="ds" style="top:112.4px;color:#2680d6;transform:scaleX(1.03)"><span class="d">۱۷۰%</span> آورده نقدی</div>
<div class="ds" style="top:147.4px;color:#777;transform:scaleX(0.99)">مجموع مراحل افزایش سرمایه:<span class="d">%۳۵۰</span></div>
<div class="cl" style="left:660px;width:57.44px;text-align:center">سرمایه:</div>
<div class="cb" style="left:513.78px;width:140.22px;background:#3fa7b8">۳۱۱ میلیارد تومان</div>
<div class="cb" style="left:262.07px;width:146.86px;background:#74b272">۸۴۰ میلیارد تومان</div>
<div class="cb" style="left:17px;width:149.2px;background:#ef8a5e">۱۴۰۰ میلیارد تومان</div>
<div class="dash" style="left:408.93px;width:104.85px;top:156.9px"></div>
<div class="ar" style="left:455.56px;top:150.5px"></div>
<div class="pl" style="left:411.96px;top:127px">۱۷۰%</div>
<div class="sb" style="left:401.36px;top:162.8px">مرحله فعلی</div>
<div class="dash" style="left:166.2px;width:95.87px;top:156.9px"></div>
<div class="ar" style="left:208.34px;top:150.5px"></div>
<div class="pl" style="left:164.74px;top:127px">۶۷%</div>
<div class="sb" style="left:154.14px;top:162.8px">مرحله بعدی</div>
<div class="dash bk" style="left:92.2px;width:491.29px;top:124.1px"></div>
<div class="vdash" style="left:91.55px;top:124.1px;height:18.5px"></div>
<div class="vdash" style="left:582.84px;top:124.1px;height:18.5px"></div>
<div class="ar" style="left:335.05px;top:117.6px"></div>
<div class="pl" style="left:290.45px;top:98px">۳۵۰%</div>
<div class="ts" style="width:144.98px">۱۴۰۴/۱۰/۲۲ ۱۳:۳۲:۱۷</div>
</div>
<div class="row" style="top:1332.15px">
<div class="cols">
<div class="col" style="left:-1px;width:120.27px;background:linear-gradient(180deg,rgba(214,76,74,.11),rgba(214,76,74,0) 85%)"></div>
<div class="vl" style="left:118.67px;background:linear-gradient(180deg,rgba(214,76,74,.3),rgba(120,120,120,.07) 88%)"></div>
<div class="col" style="left:119.27px;width:120.27px;background:linear-gradient(180deg,rgba(230,124,80,.11),rgba(230,124,80,0) 85%)"></div>
<div class="vl" style="left:238.94px;background:linear-gradient(180deg,rgba(230,124,80,.3),rgba(120,120,120,.07) 88%)"></div>
<div class="col" style="left:239.54px;width:120.27px;background:linear-gradient(180deg,rgba(242,166,94,.11),rgba(242,166,94,0) 85%)"></div>
<div class="vl" style="left:359.21px;background:linear-gradient(180deg,rgba(242,166,94,.3),rgba(120,120,120,.07) 88%)"></div>
<div class="col" style="left:359.81px;width:120.27px;background:linear-gradient(180deg,rgba(235,196,108,.11),rgba(235,196,108,0) 85%)"></div>
<div class="vl" style="left:479.48px;background:linear-gradient(180deg,rgba(235,196,108,.3),rgba(120,120,120,.07) 88%)"></div>
<div class="col" style="left:480.08px;width:120.27px;background:linear-gradient(180deg,rgba(203,199,104,.11),rgba(203,199,104,0) 85%)"></div>
<div class="vl" style="left:599.75px;background:linear-gradient(180deg,rgba(203,199,104,.3),rgba(120,120,120,.07) 88%)"></div>
<div class="col" style="left:600.35px;width:120.27px;background:linear-gradient(180deg,rgba(154,186,98,.11),rgba(154,186,98,0) 85%)"></div>
<div class="vl" style="left:720.02px;background:linear-gradient(180deg,rgba(154,186,98,.3),rgba(120,120,120,.07) 88%)"></div>
<div class="col" style="left:720.62px;width:120.27px;background:linear-gradient(180deg,rgba(104,171,100,.11),rgba(104,171,100,0) 85%)"></div>
<div class="vl" style="left:840.29px;background:linear-gradient(180deg,rgba(104,171,100,.3),rgba(120,120,120,.07) 88%)"></div>
<div class="col" style="left:840.89px;width:120.27px;background:linear-gradient(180deg,rgba(9,154,98,.11),rgba(9,154,98,0) 85%)"></div>
<div class="vl" style="left:960.56px;background:linear-gradient(180deg,rgba(9,154,98,.3),rgba(120,120,120,.07) 88%)"></div>
<div class="col" style="left:961.16px;width:120.27px;background:linear-gradient(180deg,rgba(8,124,110,.11),rgba(8,124,110,0) 85%)"></div>
<div class="vl" style="left:1080.83px;background:linear-gradient(180deg,rgba(8,124,110,.3),rgba(120,120,120,.07) 88%)"></div>
<div class="hl"></div>
</div>
<div class="np"><div class="nm" style="transform:scaleX(0.79)">سیسکو</div><i style="top:76.2px"></i><div class="pc">۴۷%</div><i style="top:139.3px"></i><div class="pr">۲,۰۱۵<small>ریال</small></div></div>
<div class="nd" style="left:42.83px;top:63.5px"></div>
<div class="nd" style="left:163.1px;top:63.5px"></div>
<div class="nd" style="left:283.38px;top:63.5px"></div>
<div class="nd a" style="left:1005px;top:63.5px"></div>
<div class="nd a" style="left:884.73px;top:63.5px"></div>
<div class="nd a" style="left:764.46px;top:63.5px"></div>
<div class="nd a" style="left:644.19px;top:63.5px"></div>
<div class="nd c" style="left:403.64px;top:63.5px"></div>
<div class="ln" style="left:419.94px;width:601.35px;top:79.73px"></div>
<div class="dot" style="left:1009px;top:67.5px"></div>
<div class="db" style="left:983.5px;width:74.18px;top:28.35px"><span>۰۴/۰۴/۲۵</span></div>
<div class="dot" style="left:888.73px;top:67.5px"></div>
<div class="db" style="left:863.91px;width:72.84px;top:28.35px"><span>۰۴/۰۵/۰۷</span></div>
<div class="dot" style="left:768.46px;top:67.5px"></div>
<div class="db" style="left:744.71px;width:70.7px;top:28.35px"><span>۰۴/۰۸/۱۸</span></div>
<div class="dot" style="left:648.19px;top:67.5px"></div>
<div class="db" style="left:623.37px;width:72.82px;top:28.35px"><span>۰۴/۰۸/۲۶</span></div>
<div class="dot" style="left:407.64px;top:67.5px"></div>
<div class="db db2" style="left:384.56px;width:69.37px;top:11.350000000000001px"><span>۰۴/۱۰/۲۴</span><br><span>۰۴/۱۰/۳۰</span></div>
<svg class="abs" style="left:449.93px;top:16.35px" width="14" height="32" viewBox="0 0 14 32"><path d="M1.2 6.6 H10.6 V25.4 H2.4" fill="none" stroke="#ff9800" stroke-width="1.3"/><path d="M6.6 21.8 L2.2 25.4 L6.6 28.6" fill="none" stroke="#ff9800" stroke-width="1.3"/></svg>
<div class="iv" style="left:911.16px;top:58.4px">۱۲ روز</div>
<div class="iv" style="left:790.89px;top:58.4px">۱۰۳ روز</div>
<div class="iv" style="left:670.62px;top:58.4px">۸ روز</div>
<div class="iv" style="left:490.22px;top:58.4px">۵۷ روز</div>
<div class="ds" style="top:112.4px;color:#2680d6;transform:scaleX(1.021)"><span class="d">۴۷%</span> آورده نقدی</div>
<div class="ds" style="top:147.4px;color:#777;transform:scaleX(0.986)">مجموع مراحل افزایش سرمایه:<span class="d">%۱۰۰</span></div>
<div class="cl" style="left:660px;width:57.44px;text-align:center">سرمایه:</div>
<div class="cb" style="left:498.69px;width:155.31px;background:#3fa7b8">۸۵۰۰ میلیارد تومان</div>
<div class="cb" style="left:255.7px;width:159.59px;background:#74b272">۱۲۵۰۰ میلیارد تومان</div>
<div class="cb" style="left:17px;width:157.62px;background:#ef8a5e">۱۷۰۰۰ میلیارد تومان</div>
<div class="dash" style="left:415.3px;width:83.39px;top:156.9px"></div>
<div class="ar" style="left:451.19px;top:150.5px"></div>
<div class="pl" style="left:407.59px;top:127px">۴۷%</div>
<div class="sb" style="left:396.99px;top:162.8px">مرحله فعلی</div>
<div class="dash" style="left:174.62px;width:81.08px;top:156.9px"></div>
<div class="ar" style="left:209.36px;top:150.5px"></div>
<div class="pl" style="left:165.76px;top:127px">۳۶%</div>
<div class="sb" style="left:155.16px;top:162.8px">مرحله بعدی</div>
<div class="dash bk" style="left:96.41px;width:479.53px;top:124.1px"></div>
<div class="vdash" style="left:95.76px;top:124.1px;height:18.5px"></div>
<div class="vdash" style="left:575.29px;top:124.1px;height:18.5px"></div>
<div class="ar" style="left:333.38px;top:117.6px"></div>
<div class="pl" style="left:288.78px;top:98px">۱۰۰%</div>
<div class="ts" style="width:149.14px">۱۴۰۴/۱۰/۲۲ ۰۸:۲۷:۳۹</div>
</div>
<div class="row" style="top:1536px">
<div class="cols">
<div class="col" style="left:-1px;width:120.27px;background:linear-gradient(180deg,rgba(214,76,74,.11),rgba(214,76,74,0) 85%)"></div>
<div class="vl" style="left:118.67px;background:linear-gradient(180deg,rgba(214,76,74,.3),rgba(120,120,120,.07) 88%)"></div>
<div class="col" style="left:119.27px;width:120.27px;background:linear-gradient(180deg,rgba(230,124,80,.11),rgba(230,124,80,0) 85%)"></div>
<div class="vl" style="left:238.94px;background:linear-gradient(180deg,rgba(230,124,80,.3),rgba(120,120,120,.07) 88%)"></div>
<div class="col" style="left:239.54px;width:120.27px;background:linear-gradient(180deg,rgba(242,166,94,.11),rgba(242,166,94,0) 85%)"></div>
<div class="vl" style="left:359.21px;background:linear-gradient(180deg,rgba(242,166,94,.3),rgba(120,120,120,.07) 88%)"></div>
<div class="col" style="left:359.81px;width:120.27px;background:linear-gradient(180deg,rgba(235,196,108,.11),rgba(235,196,108,0) 85%)"></div>
<div class="vl" style="left:479.48px;background:linear-gradient(180deg,rgba(235,196,108,.3),rgba(120,120,120,.07) 88%)"></div>
<div class="col" style="left:480.08px;width:120.27px;background:linear-gradient(180deg,rgba(203,199,104,.11),rgba(203,199,104,0) 85%)"></div>
<div class="vl" style="left:599.75px;background:linear-gradient(180deg,rgba(203,199,104,.3),rgba(120,120,120,.07) 88%)"></div>
<div class="col" style="left:600.35px;width:120.27px;background:linear-gradient(180deg,rgba(154,186,98,.11),rgba(154,186,98,0) 85%)"></div>
<div class="vl" style="left:720.02px;background:linear-gradient(180deg,rgba(154,186,98,.3),rgba(120,120,120,.07) 88%)"></div>
<div class="col" style="left:720.62px;width:120.27px;background:linear-gradient(180deg,rgba(104,171,100,.11),rgba(104,171,100,0) 85%)"></div>
<div class="vl" style="left:840.29px;background:linear-gradient(180deg,rgba(104,171,100,.3),rgba(120,120,120,.07) 88%)"></div>
<div class="col" style="left:840.89px;width:120.27px;background:linear-gradient(180deg,rgba(9,154,98,.11),rgba(9,154,98,0) 85%)"></div>
<div class="vl" style="left:960.56px;background:linear-gradient(180deg,rgba(9,154,98,.3),rgba(120,120,120,.07) 88%)"></div>
<div class="col" style="left:961.16px;width:120.27px;background:linear-gradient(180deg,rgba(8,124,110,.11),rgba(8,124,110,0) 85%)"></div>
<div class="vl" style="left:1080.83px;background:linear-gradient(180deg,rgba(8,124,110,.3),rgba(120,120,120,.07) 88%)"></div>
<div class="hl"></div>
</div>
<div class="np"><div class="nm" style="transform:scaleX(0.935)">غپاذر</div><i style="top:76.2px"></i><div class="pc">۷۱۲%</div></div>
<div class="nd" style="left:42.83px;top:63.5px"></div>
<div class="nd" style="left:523.92px;top:63.5px"></div>
<div class="nd" style="left:644.19px;top:63.5px"></div>
<div class="nd" style="left:764.46px;top:63.5px"></div>
<div class="nd" style="left:884.73px;top:63.5px"></div>
<div class="nd c" style="left:1005px;top:63.5px"></div>
<div class="dot" style="left:1009px;top:67.5px"></div>
<div class="db" style="left:987.11px;width:66.98px;top:28.22px"><span>۰۴/۱۰/۲۰</span></div>
<div class="dash dl" style="left:968.28px;width:17.83px;top:40.82px"></div>
<div class="mg" style="left:889.01px;width:77.77px;top:28.22px">۷۰ روز قبل</div>
<div class="ds" style="top:111.8px;color:#d84a1c;transform:scaleX(1.023)">مازاد تجدید ارزیابی دارایی ها</div>
<div class="cl" style="left:410.62px;width:57.44px;text-align:center">سرمایه:</div>
<div class="cb" style="left:266.38px;width:138.23px;background:#3fa7b8">۱۰۰ میلیارد تومان</div>
<div class="cb" style="left:17px;width:143.39px;background:#74b272">۸۱۲ میلیارد تومان</div>
<div class="dash" style="left:160.39px;width:105.99px;top:156.9px"></div>
<div class="ar" style="left:207.59px;top:150.5px"></div>
<div class="pl" style="left:163.99px;top:127px">۷۱۲%</div>
<div class="ts" style="width:142.31px">۱۴۰۴/۱۰/۲۰ ۱۹:۰۴:۵۷</div>
</div>
<div class="row" style="top:1739.85px">
<div class="cols">
<div class="col" style="left:-1px;width:120.27px;background:linear-gradient(180deg,rgba(214,76,74,.11),rgba(214,76,74,0) 85%)"></div>
<div class="vl" style="left:118.67px;background:linear-gradient(180deg,rgba(214,76,74,.3),rgba(120,120,120,.07) 88%)"></div>
<div class="col" style="left:119.27px;width:120.27px;background:linear-gradient(180deg,rgba(230,124,80,.11),rgba(230,124,80,0) 85%)"></div>
<div class="vl" style="left:238.94px;background:linear-gradient(180deg,rgba(230,124,80,.3),rgba(120,120,120,.07) 88%)"></div>
<div class="col" style="left:239.54px;width:120.27px;background:linear-gradient(180deg,rgba(242,166,94,.11),rgba(242,166,94,0) 85%)"></div>
<div class="vl" style="left:359.21px;background:linear-gradient(180deg,rgba(242,166,94,.3),rgba(120,120,120,.07) 88%)"></div>
<div class="col" style="left:359.81px;width:120.27px;background:linear-gradient(180deg,rgba(235,196,108,.11),rgba(235,196,108,0) 85%)"></div>
<div class="vl" style="left:479.48px;background:linear-gradient(180deg,rgba(235,196,108,.3),rgba(120,120,120,.07) 88%)"></div>
<div class="col" style="left:480.08px;width:120.27px;background:linear-gradient(180deg,rgba(203,199,104,.11),rgba(203,199,104,0) 85%)"></div>
<div class="vl" style="left:599.75px;background:linear-gradient(180deg,rgba(203,199,104,.3),rgba(120,120,120,.07) 88%)"></div>
<div class="col" style="left:600.35px;width:120.27px;background:linear-gradient(180deg,rgba(154,186,98,.11),rgba(154,186,98,0) 85%)"></div>
<div class="vl" style="left:720.02px;background:linear-gradient(180deg,rgba(154,186,98,.3),rgba(120,120,120,.07) 88%)"></div>
<div class="col" style="left:720.62px;width:120.27px;background:linear-gradient(180deg,rgba(104,171,100,.11),rgba(104,171,100,0) 85%)"></div>
<div class="vl" style="left:840.29px;background:linear-gradient(180deg,rgba(104,171,100,.3),rgba(120,120,120,.07) 88%)"></div>
<div class="col" style="left:840.89px;width:120.27px;background:linear-gradient(180deg,rgba(9,154,98,.11),rgba(9,154,98,0) 85%)"></div>
<div class="vl" style="left:960.56px;background:linear-gradient(180deg,rgba(9,154,98,.3),rgba(120,120,120,.07) 88%)"></div>
<div class="col" style="left:961.16px;width:120.27px;background:linear-gradient(180deg,rgba(8,124,110,.11),rgba(8,124,110,0) 85%)"></div>
<div class="vl" style="left:1080.83px;background:linear-gradient(180deg,rgba(8,124,110,.3),rgba(120,120,120,.07) 88%)"></div>
<div class="hl"></div>
</div>
<div class="np"><div class="nm" style="transform:scaleX(0.87)">چاپ</div><i style="top:76.2px"></i><div class="pc">۱۲۴%</div><i style="top:139.3px"></i><div class="pr">۸,۲۱۰<small>ریال</small></div></div>
<div class="nd" style="left:42.83px;top:63.5px"></div>
<div class="nd" style="left:523.92px;top:63.5px"></div>
<div class="nd" style="left:644.19px;top:63.5px"></div>
<div class="nd" style="left:764.46px;top:63.5px"></div>
<div class="nd a" style="left:1005px;top:63.5px"></div>
<div class="nd c" style="left:884.73px;top:63.5px"></div>
<div class="ln" style="left:901.02px;width:120.27px;top:79.03px"></div>
<div class="dot" style="left:1009px;top:67.5px"></div>
<div class="db" style="left:987.11px;width:66.98px;top:28.09px"><span>۰۴/۱۰/۲۰</span></div>
<div class="dot" style="left:888.73px;top:67.5px"></div>
<div class="db" style="left:866.84px;width:66.98px;top:28.09px"><span>۰۴/۱۰/۲۰</span></div>
<div class="dash dl" style="left:848.01px;width:17.83px;top:40.69px"></div>
<div class="mg" style="left:768.74px;width:77.77px;top:28.09px">۷۰ روز قبل</div>
<div class="iv" style="left:911.16px;top:60px">۴ دقیقه</div>
<div class="ds" style="top:111.8px;color:#d84a1c;transform:scaleX(1.023)">مازاد تجدید ارزیابی دارایی ها</div>
<div class="cl" style="left:414.48px;width:57.44px;text-align:center">سرمایه:</div>
<div class="cb" style="left:262.52px;width:145.97px;background:#3fa7b8">۲۵۰ میلیارد تومان</div>
<div class="cb" style="left:17px;width:145.27px;background:#74b272">۵۶۰ میلیارد تومان</div>
<div class="dash" style="left:162.27px;width:100.25px;top:156.9px"></div>
<div class="ar" style="left:206.59px;top:150.5px"></div>
<div class="pl" style="left:162.99px;top:127px">۱۲۴%</div>
<div class="ts" style="width:138.84px">۱۴۰۴/۱۰/۲۰ ۰۹:۱۸:۳۱</div>
</div>
<svg id="wm" width="1280" height="2058" viewBox="0 0 1280 2058"><text transform="translate(319.4 1581.3) rotate(-53.9)" x="0" y="0" font-family='"Vazirmatn", "Liberation Sans", "DejaVu Sans", sans-serif' font-size="218" font-weight="340" fill="#000" fill-opacity="0.13">@CodalChart</text></svg>
<div class="t" id="fl1">@CodalChart</div>
<div class="t" id="fl2">کانال کدال چارت</div>
<div class="t" id="fr">شنبه <span class="d">۰۱</span> فروردین <span class="d">۱۴۰۵</span> ساعت <span class="d">۲۱:۵۵:۱۲</span></div>
</body>
</html>
